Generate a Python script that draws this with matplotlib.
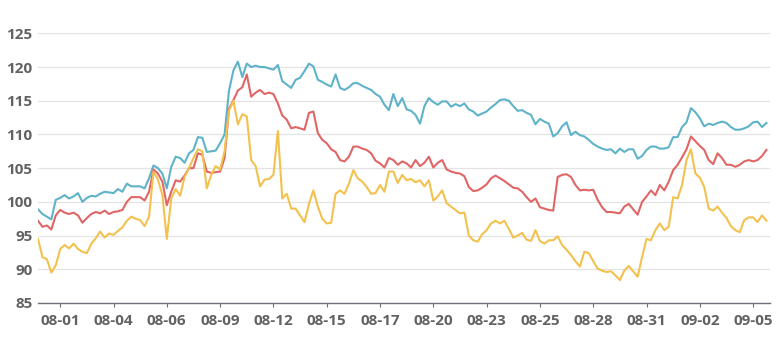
import matplotlib
matplotlib.use('Agg')
import matplotlib.pyplot as plt
import numpy as np

# three index series (one value every ~4.4 px)
blue = [98.9, 98.2, 97.8, 97.4, 100.3, 100.6, 101.0, 100.5, 100.8, 101.3,
        100.0, 100.6, 100.9, 100.8, 101.2, 101.5, 101.4, 101.3, 101.9, 101.5,
        102.7, 102.3, 102.3, 102.3, 102.0, 103.5, 105.4, 105.0, 104.2, 102.0,
        105.2, 106.7, 106.5, 105.8, 107.2, 107.7, 109.6, 109.5, 107.4, 107.5,
        107.6, 108.7, 110.0, 116.5, 119.5, 120.8, 118.5, 120.5, 120.0, 120.2,
        120.0, 120.0, 119.8, 119.6, 120.3, 117.9, 117.4, 116.9, 118.1, 118.4,
        119.4, 120.5, 120.1, 118.1, 117.8, 117.4, 117.1, 118.9, 116.9, 116.6,
        117.0, 117.6, 117.6, 117.2, 116.9, 116.6, 116.0, 115.6, 114.4, 113.6,
        116.0, 114.2, 115.4, 113.7, 113.5, 112.9, 111.6, 114.2, 115.4, 114.8,
        114.4, 114.9, 114.9, 114.1, 114.5, 114.2, 114.6, 113.7, 113.4, 112.8,
        113.1, 113.4, 114.0, 114.5, 115.1, 115.2, 115.0, 114.2, 113.5, 113.6,
        113.2, 112.9, 111.5, 112.3, 111.9, 111.6, 109.7, 110.2, 111.2, 111.8,
        109.9, 110.4, 109.9, 109.7, 109.2, 108.6, 108.2, 107.9, 107.7, 107.8,
        107.2, 107.9, 107.4, 107.8, 107.8, 106.4, 106.8, 107.7, 108.2, 108.2,
        107.9, 107.9, 108.1, 109.6, 109.6, 111.1, 111.8, 113.9, 113.3, 112.4,
        111.2, 111.6, 111.4, 111.7, 111.9, 111.7, 111.1, 110.7, 110.7, 110.9,
        111.2, 111.8, 111.9, 111.1, 111.7]

red = [97.2, 96.3, 96.5, 95.9, 98.0, 98.8, 98.4, 98.2, 98.4, 98.0,
       96.9, 97.6, 98.2, 98.5, 98.3, 98.7, 98.2, 98.5, 98.6, 98.8,
       100.0, 100.7, 100.7, 100.7, 100.2, 101.5, 104.8, 104.2, 103.0, 99.5,
       101.5, 103.2, 103.0, 103.9, 105.0, 105.0, 107.2, 107.0, 104.5, 104.3,
       104.4, 104.5, 106.5, 113.8, 115.1, 116.5, 117.0, 118.9, 115.6, 116.2,
       116.6, 116.0, 116.2, 116.0, 114.6, 112.8, 112.2, 110.9, 111.1, 110.9,
       110.7, 113.2, 113.4, 110.2, 109.2, 108.7, 107.8, 107.4, 106.2, 106.0,
       106.7, 108.2, 108.2, 107.9, 107.7, 107.2, 106.1, 105.7, 105.1, 106.5,
       106.2, 105.5, 106.0, 105.7, 105.1, 106.2, 105.3, 105.8, 106.7, 105.1,
       105.8, 106.2, 104.8, 104.5, 104.3, 104.2, 103.8, 102.2, 101.6, 101.7,
       102.1, 102.6, 103.5, 103.9, 103.5, 103.1, 102.6, 102.1, 102.0, 101.5,
       100.7, 100.0, 100.5, 99.2, 99.0, 98.8, 98.7, 103.7, 104.0, 104.1,
       103.7, 102.5, 101.7, 101.8, 101.7, 101.8, 100.3, 99.2, 98.5, 98.5,
       98.4, 98.3, 99.3, 99.7, 98.9, 98.1, 100.0, 100.8, 101.7, 101.0,
       102.5, 101.7, 103.0, 104.7, 105.5, 106.6, 107.8, 109.7, 109.0, 108.3,
       107.7, 106.2, 105.6, 107.2, 106.5, 105.5, 105.5, 105.2, 105.5, 106.0,
       106.2, 106.0, 106.2, 106.8, 107.7]

yellow = [94.5, 91.8, 91.5, 89.5, 90.6, 93.0, 93.6, 93.1, 93.8, 93.0,
          92.6, 92.4, 93.8, 94.6, 95.6, 94.7, 95.3, 95.1, 95.7, 96.2,
          97.2, 97.8, 97.5, 97.3, 96.4, 97.8, 104.5, 103.3, 101.0, 94.5,
          100.5, 101.9, 100.9, 103.7, 105.0, 106.5, 107.8, 107.5, 102.0, 104.0,
          105.3, 104.8, 107.5, 113.5, 115.0, 111.5, 113.0, 112.7, 106.2, 105.3,
          102.3, 103.3, 103.4, 104.0, 110.5, 100.5, 101.2, 99.0, 99.0, 98.0,
          97.0, 99.7, 101.7, 99.3, 97.5, 96.8, 96.9, 101.2, 101.7, 101.2,
          102.7, 104.7, 103.5, 103.0, 102.2, 101.2, 101.3, 102.5, 101.5, 104.5,
          104.5, 102.8, 104.0, 103.2, 103.4, 102.9, 103.2, 102.3, 103.2, 100.2,
          100.8, 101.7, 99.8, 99.3, 98.8, 98.3, 98.4, 95.0, 94.3, 94.1,
          95.2, 95.8, 96.8, 97.2, 96.8, 97.2, 96.0, 94.7, 95.0, 95.4,
          94.4, 94.2, 95.8, 94.2, 93.8, 94.3, 94.3, 94.9, 93.6, 92.9,
          92.1, 91.2, 90.4, 92.6, 92.4, 91.2, 90.1, 89.8, 89.6, 89.7,
          89.1, 88.4, 89.8, 90.5, 89.7, 88.9, 91.8, 94.5, 94.3, 95.8,
          96.8, 95.8, 96.3, 100.7, 100.5, 102.5, 106.2, 107.8, 104.2, 103.6,
          102.2, 99.0, 98.7, 99.3, 98.4, 97.6, 96.4, 95.8, 95.5, 97.3,
          97.7, 97.7, 97.0, 98.0, 97.2]

tick_labels = ['08-01', '08-04', '08-06', '08-09', '08-12', '08-15', '08-17',
               '08-20', '08-23', '08-25', '08-28', '08-31', '09-02', '09-05']
y_ticks = [85, 90, 95, 100, 105, 110, 115, 120, 125]

W, H = 784, 341
fig = plt.figure(figsize=(W / 100, H / 100), dpi=100)
ax = fig.add_axes([38 / W, 1 - 303 / H, (770 - 38) / W, (303 - 33.3) / H])

x = np.arange(len(blue))
ax.plot(x, blue, color='#5fb3c8', lw=1.5, zorder=3)
ax.plot(x, red, color='#e06666', lw=1.5, zorder=3)
ax.plot(x, yellow, color='#f2c14e', lw=1.5, zorder=3)

ax.set_xlim(0, 164.8)
ax.set_ylim(85, 125)
ax.set_yticks(y_ticks)
ax.set_xticks(5 + 12 * np.arange(len(tick_labels)))
ax.set_xticklabels(tick_labels)

ax.grid(axis='y', color='#e3e3e3', lw=0.9)
ax.set_axisbelow(True)
for s in ['top', 'right', 'left']:
    ax.spines[s].set_visible(False)
ax.spines['bottom'].set_color('#6e7079')
ax.spines['bottom'].set_linewidth(1.0)

ax.tick_params(axis='y', length=0, pad=4)
ax.tick_params(axis='x', length=3, color='#6e7079', pad=5)
for lab in ax.get_xticklabels() + ax.get_yticklabels():
    lab.set_fontfamily('Open Sans')
    lab.set_fontsize(11)
    lab.set_fontweight('bold')
    lab.set_color('#626262')

fig.savefig('out.png', dpi=100)
